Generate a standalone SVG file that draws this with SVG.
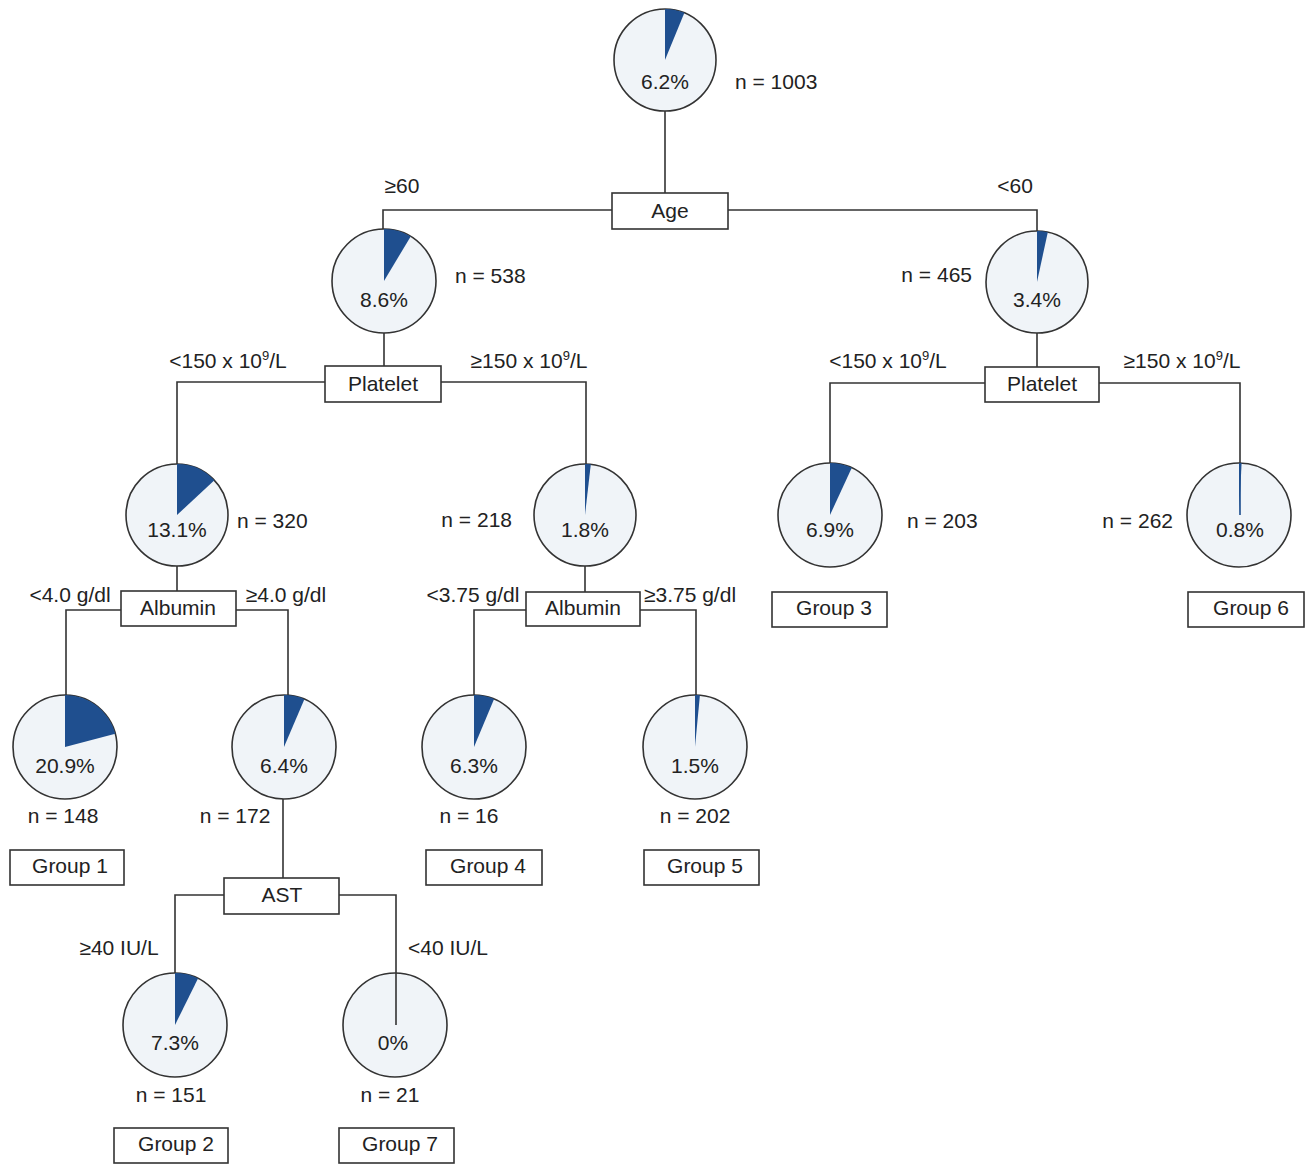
<svg xmlns="http://www.w3.org/2000/svg" width="1310" height="1165" viewBox="0 0 1310 1165">
<style>
text{font-family:"Liberation Sans",Arial,sans-serif;font-size:21px;fill:#222}
.c{text-anchor:middle}
.e{text-anchor:end}
.pie{fill:#f0f4f8;stroke:#333;stroke-width:1.6}
.w{fill:#1f4f8f}
.box{fill:#fff;stroke:#333;stroke-width:1.6}
.ln{fill:none;stroke:#333;stroke-width:1.6}
.sup{font-size:13px}
</style>
<rect width="1310" height="1165" fill="#fff"/>
<g id="connectors" class="ln">
<path d="M665,111 V193"/>
<path d="M612,210 H383 V229"/>
<path d="M728,210 H1037 V231"/>
<path d="M384,333 V366"/>
<path d="M325,382 H177 V464"/>
<path d="M441,382 H586 V464"/>
<path d="M1037,333 V367"/>
<path d="M985,383 H830 V463"/>
<path d="M1099,383 H1240 V463"/>
<path d="M177,566 V591"/>
<path d="M121,610 H66 V695"/>
<path d="M236,610 H288 V695"/>
<path d="M585,566 V592"/>
<path d="M526,610 H474 V695"/>
<path d="M640,610 H696 V695"/>
<path d="M283,799 V878"/>
<path d="M224,895 H175 V973"/>
<path d="M339,895 H396 V973"/>
</g>
<g id="n-root">
<circle class="pie" cx="665" cy="60" r="51"/>
<path class="w" d="M665,60 L665,9 A51,51 0 0 1 684.4,12.8 Z"/>
<text class="c" x="665" y="89">6.2%</text>
<text x="735" y="89">n = 1003</text>
</g>
<g id="n-age">
<rect class="box" x="612" y="193" width="116" height="36"/>
<text class="c" x="670" y="218">Age</text>
</g>
<g id="lbl-age">
<text class="c" x="402" y="193">≥60</text>
<text class="c" x="1015" y="193">&lt;60</text>
</g>
<g id="n-538">
<circle class="pie" cx="384" cy="281" r="52"/>
<path class="w" d="M384,281 L384,229 A52,52 0 0 1 410.7,236.4 Z"/>
<text class="c" x="384" y="307">8.6%</text>
<text x="455" y="283">n = 538</text>
</g>
<g id="n-465">
<circle class="pie" cx="1037" cy="282" r="51"/>
<path class="w" d="M1037,282 L1037,231 A51,51 0 0 1 1047.8,232.2 Z"/>
<text class="c" x="1037" y="307">3.4%</text>
<text class="e" x="972" y="282">n = 465</text>
</g>
<g id="n-platelet-l">
<rect class="box" x="325" y="366" width="116" height="36"/>
<text class="c" x="383" y="391">Platelet</text>
</g>
<g id="n-platelet-r">
<rect class="box" x="985" y="367" width="114" height="35"/>
<text class="c" x="1042" y="391">Platelet</text>
</g>
<g id="lbl-platelet">
<text class="c" x="228" y="368">&lt;150 x 10<tspan class="sup" dy="-8">9</tspan><tspan dy="8">/L</tspan></text>
<text class="c" x="529" y="368">≥150 x 10<tspan class="sup" dy="-8">9</tspan><tspan dy="8">/L</tspan></text>
<text class="c" x="888" y="368">&lt;150 x 10<tspan class="sup" dy="-8">9</tspan><tspan dy="8">/L</tspan></text>
<text class="c" x="1182" y="368">≥150 x 10<tspan class="sup" dy="-8">9</tspan><tspan dy="8">/L</tspan></text>
</g>
<g id="n-320">
<circle class="pie" cx="177" cy="515" r="51"/>
<path class="w" d="M177,515 L177,464 A51,51 0 0 1 214.4,480.3 Z"/>
<text class="c" x="177" y="537">13.1%</text>
<text x="237" y="528">n = 320</text>
</g>
<g id="n-218">
<circle class="pie" cx="585" cy="515" r="51"/>
<path class="w" d="M585,515 L585,464 A51,51 0 0 1 590.8,464.3 Z"/>
<text class="c" x="585" y="537">1.8%</text>
<text class="e" x="512" y="527">n = 218</text>
</g>
<g id="n-203">
<circle class="pie" cx="830" cy="515" r="52"/>
<path class="w" d="M830,515 L830,463 A52,52 0 0 1 851.8,467.8 Z"/>
<text class="c" x="830" y="537">6.9%</text>
<text x="907" y="528">n = 203</text>
</g>
<g id="n-262">
<circle class="pie" cx="1239" cy="515" r="52"/>
<path class="w" d="M1239,515 L1239,463 A52,52 0 0 1 1241.6,463.1 Z"/>
<line x1="1240" y1="463" x2="1240" y2="515" stroke="#1f4f8f" stroke-width="1.6"/>
<text class="c" x="1240" y="537">0.8%</text>
<text class="e" x="1173" y="528">n = 262</text>
</g>
<g id="n-group3">
<rect class="box" x="772" y="592" width="115" height="35"/>
<text class="c" x="834" y="615">Group 3</text>
</g>
<g id="n-group6">
<rect class="box" x="1188" y="592" width="116" height="35"/>
<text class="c" x="1251" y="615">Group 6</text>
</g>
<g id="n-albumin-l">
<rect class="box" x="121" y="591" width="115" height="35"/>
<text class="c" x="178" y="615">Albumin</text>
</g>
<g id="n-albumin-m">
<rect class="box" x="526" y="592" width="114" height="34"/>
<text class="c" x="583" y="615">Albumin</text>
</g>
<g id="lbl-albumin">
<text class="c" x="70" y="602">&lt;4.0 g/dl</text>
<text class="c" x="286" y="602">≥4.0 g/dl</text>
<text class="c" x="473" y="602">&lt;3.75 g/dl</text>
<text class="c" x="690" y="602">≥3.75 g/dl</text>
</g>
<g id="n-148">
<circle class="pie" cx="65" cy="747" r="52"/>
<path class="w" d="M65,747 L65,695 A52,52 0 0 1 115.3,733.8 Z"/>
<text class="c" x="65" y="773">20.9%</text>
<text class="c" x="63" y="823">n = 148</text>
</g>
<g id="n-172">
<circle class="pie" cx="284" cy="747" r="52"/>
<path class="w" d="M284,747 L284,695 A52,52 0 0 1 304.4,699.2 Z"/>
<text class="c" x="284" y="773">6.4%</text>
<text class="c" x="235" y="823">n = 172</text>
</g>
<g id="n-16">
<circle class="pie" cx="474" cy="747" r="52"/>
<path class="w" d="M474,747 L474,695 A52,52 0 0 1 494.1,699.0 Z"/>
<text class="c" x="474" y="773">6.3%</text>
<text class="c" x="469" y="823">n = 16</text>
</g>
<g id="n-202">
<circle class="pie" cx="695" cy="747" r="52"/>
<path class="w" d="M695,747 L695,695 A52,52 0 0 1 699.9,695.2 Z"/>
<text class="c" x="695" y="773">1.5%</text>
<text class="c" x="695" y="823">n = 202</text>
</g>
<g id="n-group1">
<rect class="box" x="10" y="850" width="114" height="35"/>
<text class="c" x="70" y="873">Group 1</text>
</g>
<g id="n-group4">
<rect class="box" x="426" y="850" width="116" height="35"/>
<text class="c" x="488" y="873">Group 4</text>
</g>
<g id="n-group5">
<rect class="box" x="644" y="850" width="115" height="35"/>
<text class="c" x="705" y="873">Group 5</text>
</g>
<g id="n-ast">
<rect class="box" x="224" y="878" width="115" height="36"/>
<text class="c" x="282" y="902">AST</text>
</g>
<g id="lbl-ast">
<text class="c" x="119" y="955">≥40 IU/L</text>
<text class="c" x="448" y="955">&lt;40 IU/L</text>
</g>
<g id="n-151">
<circle class="pie" cx="175" cy="1025" r="52"/>
<path class="w" d="M175,1025 L175,973 A52,52 0 0 1 198.0,978.4 Z"/>
<text class="c" x="175" y="1050">7.3%</text>
<text class="c" x="171" y="1102">n = 151</text>
</g>
<g id="n-21">
<circle class="pie" cx="395" cy="1025" r="52"/>
<line x1="396" y1="973" x2="396" y2="1025" stroke="#333" stroke-width="1.6"/>
<text class="c" x="393" y="1050">0%</text>
<text class="c" x="390" y="1102">n = 21</text>
</g>
<g id="n-group2">
<rect class="box" x="114" y="1128" width="114" height="35"/>
<text class="c" x="176" y="1151">Group 2</text>
</g>
<g id="n-group7">
<rect class="box" x="339" y="1128" width="115" height="35"/>
<text class="c" x="400" y="1151">Group 7</text>
</g>
</svg>
